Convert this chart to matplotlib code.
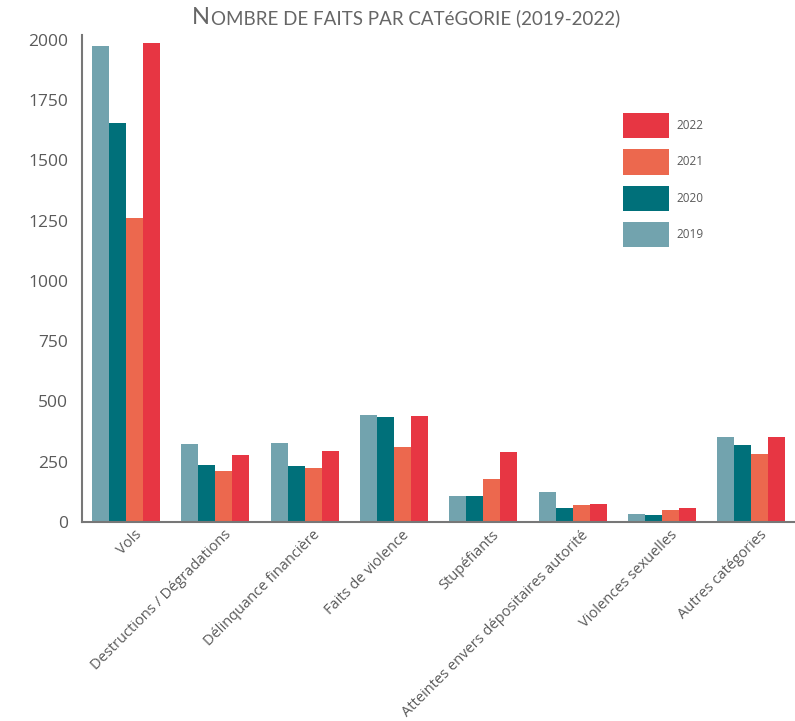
import numpy as np
import matplotlib
matplotlib.use("Agg")
import matplotlib.pyplot as plt
import matplotlib.transforms as mtransforms
from matplotlib.patches import Patch

# --------------------------------------------------------------------------------------------------
categories = ["Vols", "Destructions / Dégradations", "Délinquance financière",
              "Faits de violence", "Stupéfiants", "Atteintes envers dépositaires autorité",
              "Violences sexuelles", "Autres catégories"]
years = ["2019", "2020", "2021", "2022"]
v2019 = [1975, 324, 328, 444, 108, 124, 33, 353]
v2020 = [1655, 237, 232, 436, 108, 58, 29, 320]
v2021 = [1261, 212, 224, 311, 178, 71, 50, 282]
v2022 = [1987, 278, 295, 440, 290, 75, 58, 353]
colors = ["#72A3AE", "#00707A", "#EC684E", "#E73643"]
yticks = [0, 250, 500, 750, 1000, 1250, 1500, 1750, 2000]
# --------------------------------------------------------------------------------------------------

W, H = 795, 721
GRAY = "#5a5a5a"


def main():
    plt.rcParams["font.family"] = ["Open Sans", "DejaVu Sans"]
    fig = plt.figure(figsize=(W / 100, H / 100), dpi=100)
    ax = fig.add_axes([82 / W, 1 - 522 / H, (795 - 82) / W, (522 - 35) / H])

    x = np.arange(len(categories))
    width = 0.19
    offsets = [-0.285, -0.095, 0.095, 0.285]
    series = [v2019, v2020, v2021, v2022]
    for vals, off, col in zip(series, offsets, colors):
        ax.bar(x + off, vals, width, color=col, linewidth=0)

    ax.set_xlim(-0.493, 7.49)
    ax.set_ylim(0, 2020)
    ax.set_yticks(yticks)
    ax.set_yticklabels([str(t) for t in yticks], fontsize=12.5, color=GRAY)
    ax.set_xticks(x)
    ax.set_xticklabels(categories, rotation=45, ha="right", rotation_mode="anchor",
                       fontsize=10.5, color=GRAY)
    ax.tick_params(axis="both", length=0)
    ax.tick_params(axis="y", pad=10)
    ax.tick_params(axis="x", pad=4)
    shift = mtransforms.ScaledTranslation(8 / 100, 0, fig.dpi_scale_trans)
    for lab in ax.get_xticklabels():
        lab.set_transform(lab.get_transform() + shift)

    for s in ["top", "right"]:
        ax.spines[s].set_visible(False)
    for s in ["left", "bottom"]:
        ax.spines[s].set_color("#777777")
        ax.spines[s].set_linewidth(1.5)

    handles = [Patch(facecolor=c, edgecolor="none") for c in colors][::-1]
    ax.legend(handles, years[::-1], loc="upper left",
              bbox_to_anchor=(623 / W, 1 - 113 / H), bbox_transform=fig.transFigure,
              frameon=False, fontsize=8.5, handlelength=3.9, handleheight=2.9,
              labelspacing=0.95, handletextpad=0.6, borderpad=0, borderaxespad=0,
              labelcolor=GRAY)

    # small caps title
    fig.canvas.draw()
    r = fig.canvas.get_renderer()
    t1 = fig.text(192 / W, 1 - 24 / H, "N", fontsize=17, color="#666666",
                  family="Lato", va="baseline")
    bb = t1.get_window_extent(r)
    fig.text(bb.x1 / W + 0.001, 1 - 24 / H, "OMBRE DE FAITS PAR CATéGORIE (2019-2022)",
             fontsize=13.5, color="#666666", family="Lato", va="baseline")

    fig.savefig("out.png", dpi=100)
    plt.close()


if __name__ == '__main__':
    main()
